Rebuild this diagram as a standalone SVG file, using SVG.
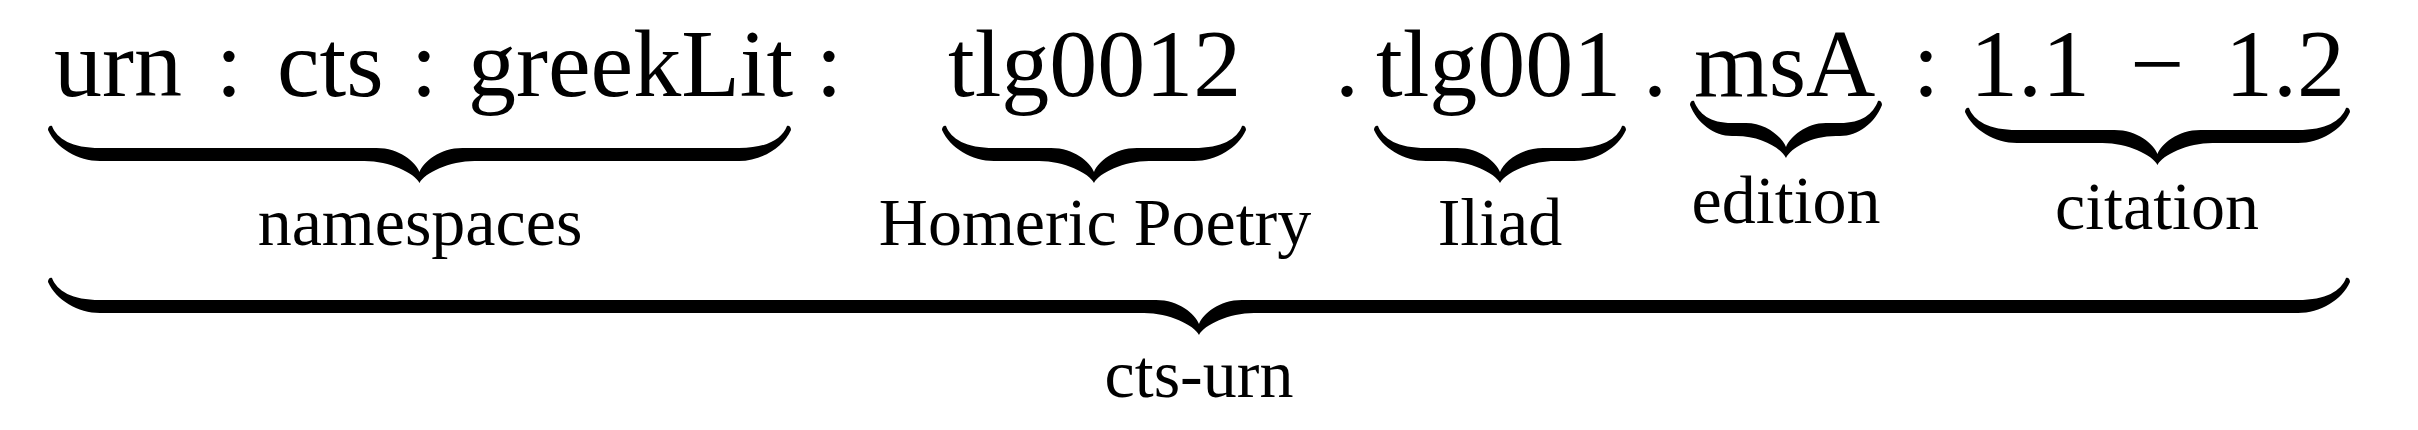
<svg xmlns="http://www.w3.org/2000/svg" width="2418" height="430" viewBox="0 0 2418 430">
<style>
  .top { font-family: "Liberation Serif", "Times New Roman", serif; font-size: 96px; fill: #000; }
  .lbl { font-family: "Liberation Serif", "Times New Roman", serif; font-size: 68px; fill: #000; text-anchor: middle; }
  .mid { text-anchor: middle; }
  .end { text-anchor: end; }
  .brace { fill: #000; stroke: none; }
</style>
<rect width="2418" height="430" fill="#fff"/>
<g id="urn-string">
  <text class="top" x="54" y="96">urn</text>
  <text class="top mid" x="229" y="96">:</text>
  <text class="top" x="277" y="96">cts</text>
  <text class="top mid" x="424" y="96">:</text>
  <text class="top" x="468" y="96">greekLit</text>
  <text class="top mid" x="829" y="96">:</text>
  <text class="top" x="948" y="96">tlg0012</text>
  <text class="top mid" x="1347" y="96">.</text>
  <text class="top" x="1376" y="96">tlg001</text>
  <text class="top mid" x="1655" y="96">.</text>
  <text class="top" x="1694" y="96">msA</text>
  <text class="top mid" x="1926" y="96">:</text>
  <text class="top" x="1970" y="96">1.1</text>
  <text class="top mid" x="2157" y="96">−</text>
  <text class="top end" x="2345" y="96">1.2</text>
</g>
<g id="connectors">
  <path id="brace-namespaces" class="brace" d="M 52,126 C 57,139 72,148 100,148 L 376.5,148 C 399.5,148 415.5,162 419.5,172 C 423.5,162 439.5,148 462.5,148 L 739,148 C 767,148 782,139 787,126 C 789,125 791,127 791,130 C 783,148 761,161 739,161 L 474.5,161 C 449.5,161 424.5,173 419.5,183 C 414.5,173 389.5,161 364.5,161 L 100,161 C 78,161 56,148 48,130 C 48,127 50,125 52,126 Z"/>
  <path id="brace-textgroup" class="brace" d="M 946,126 C 951,139 966,148 994,148 L 1051,148 C 1074,148 1090,162 1094,172 C 1098,162 1114,148 1137,148 L 1194,148 C 1222,148 1237,139 1242,126 C 1244,125 1246,127 1246,130 C 1238,148 1216,161 1194,161 L 1149,161 C 1124,161 1099,173 1094,183 C 1089,173 1064,161 1039,161 L 994,161 C 972,161 950,148 942,130 C 942,127 944,125 946,126 Z"/>
  <path id="brace-work" class="brace" d="M 1378,126 C 1383,139 1398,148 1426,148 L 1457,148 C 1480,148 1496,162 1500,172 C 1504,162 1520,148 1543,148 L 1574,148 C 1602,148 1617,139 1622,126 C 1624,125 1626,127 1626,130 C 1618,148 1596,161 1574,161 L 1555,161 C 1530,161 1505,173 1500,183 C 1495,173 1470,161 1445,161 L 1426,161 C 1404,161 1382,148 1374,130 C 1374,127 1376,125 1378,126 Z"/>
  <path id="brace-edition" class="brace" d="M 1694,101 C 1699,114 1710,123 1732,123 L 1746,123 C 1766,123 1782,137 1786,147 C 1790,137 1806,123 1826,123 L 1840,123 C 1862,123 1873,114 1878,101 C 1880,100 1882,102 1882,105 C 1875,123 1858,136 1840,136 L 1836,136 C 1811,136 1791,148 1786,158 C 1781,148 1761,136 1736,136 L 1732,136 C 1714,136 1697,123 1690,105 C 1690,102 1692,100 1694,101 Z"/>
  <path id="brace-citation" class="brace" d="M 1969,108 C 1974,121 1989,130 2017,130 L 2114.5,130 C 2137.5,130 2153.5,144 2157.5,154 C 2161.5,144 2177.5,130 2200.5,130 L 2298,130 C 2326,130 2341,121 2346,108 C 2348,107 2350,109 2350,112 C 2342,130 2320,143 2298,143 L 2212.5,143 C 2187.5,143 2162.5,155 2157.5,165 C 2152.5,155 2127.5,143 2102.5,143 L 2017,143 C 1995,143 1973,130 1965,112 C 1965,109 1967,107 1969,108 Z"/>
  <path id="brace-cts-urn" class="brace" d="M 52,278 C 57,291 72,300 100,300 L 1156,300 C 1179,300 1195,314 1199,324 C 1203,314 1219,300 1242,300 L 2298,300 C 2326,300 2341,291 2346,278 C 2348,277 2350,279 2350,282 C 2342,300 2320,313 2298,313 L 1254,313 C 1229,313 1204,325 1199,335 C 1194,325 1169,313 1144,313 L 100,313 C 78,313 56,300 48,282 C 48,279 50,277 52,278 Z"/>
</g>
<g id="namespaces"><text class="lbl" x="420" y="245">namespaces</text></g>
<g id="homeric-poetry"><text class="lbl" x="1095" y="245">Homeric Poetry</text></g>
<g id="iliad"><text class="lbl" x="1500" y="245">Iliad</text></g>
<g id="edition"><text class="lbl" x="1786" y="223">edition</text></g>
<g id="citation"><text class="lbl" x="2157" y="229">citation</text></g>
<g id="cts-urn"><text class="lbl" x="1199" y="397">cts-urn</text></g>
</svg>
